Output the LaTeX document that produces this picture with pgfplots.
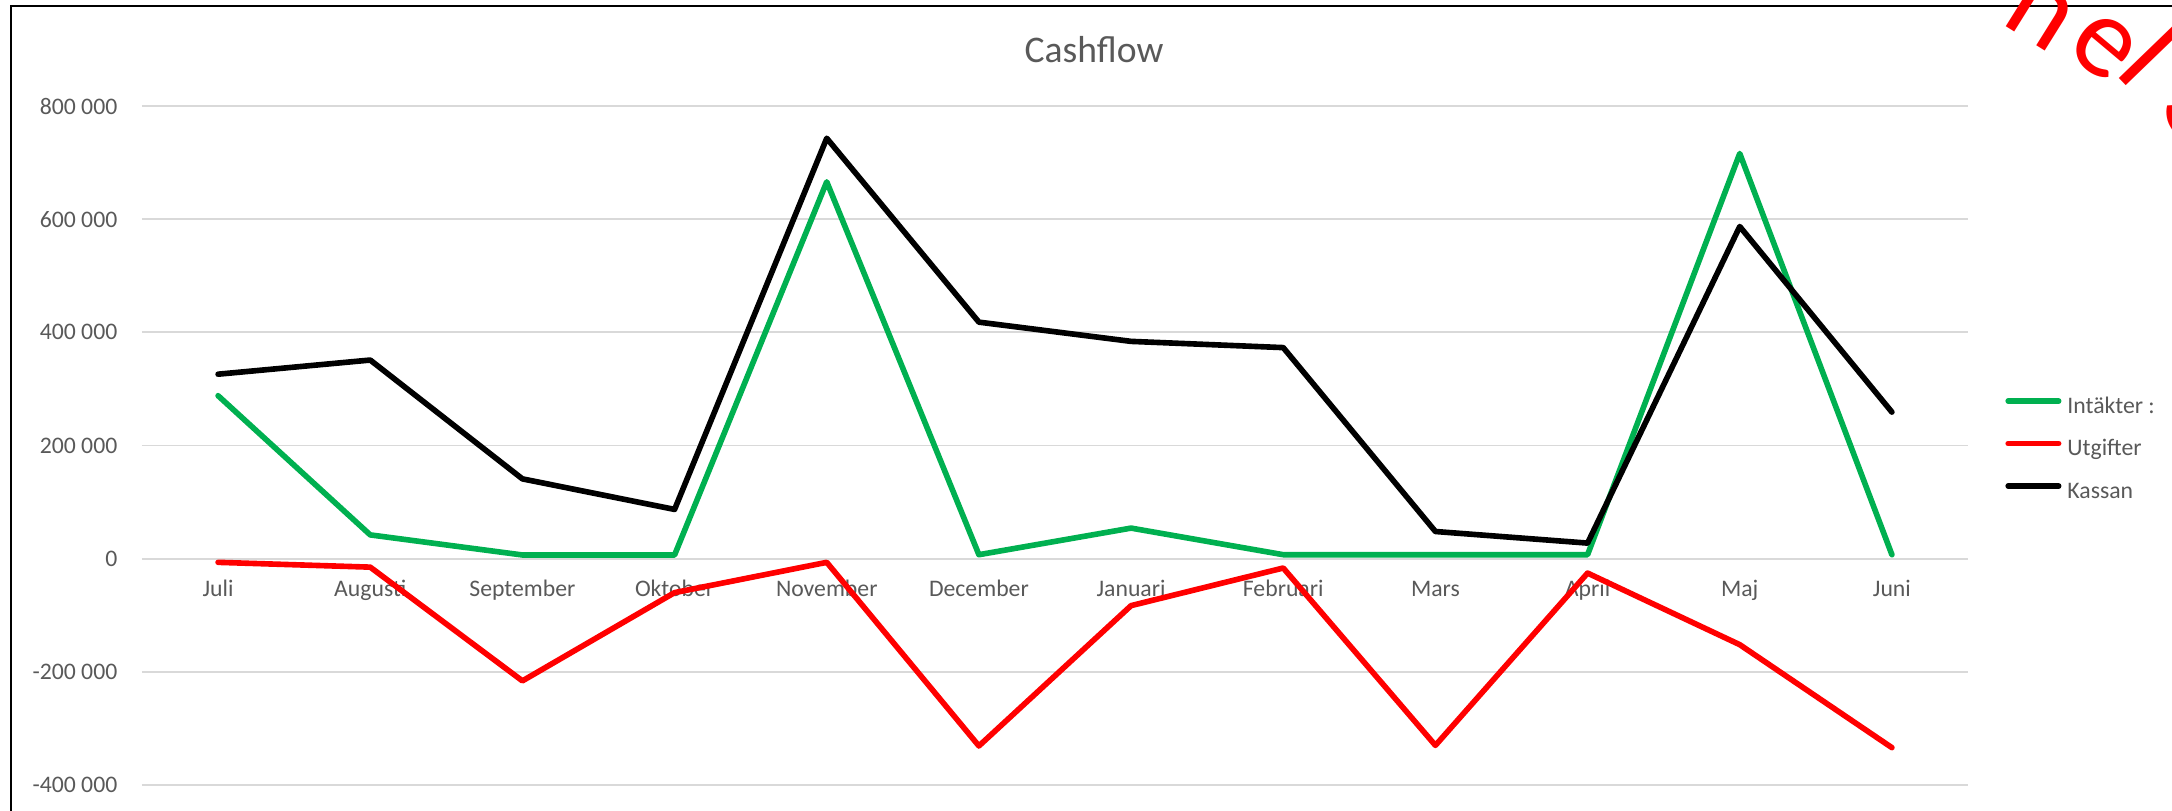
\documentclass[border=0pt]{standalone}
\usepackage{fontspec}
\setmainfont{Carlito}
\usepackage{pgfplots}
\usepackage{pgfplotstable}
\pgfplotsset{compat=1.18}

\definecolor{txtgray}{HTML}{595959}
\definecolor{gridgray}{HTML}{D9D9D9}
\definecolor{cfgreen}{HTML}{00B050}
\definecolor{cfred}{HTML}{FF0000}

% month index, Intäkter, Utgifter, Kassan
\pgfplotstableread{
x intakter utgifter kassan
0 288000 -6500 326000
1 42000 -15000 351000
2 6500 -216000 141000
3 6500 -60000 87000
4 666000 -6500 743000
5 7000 -331000 418000
6 54000 -83000 384000
7 7000 -16500 373000
8 7000 -330000 48000
9 7000 -25500 27500
10 716000 -152000 587000
11 7000 -334000 259000
}\cashflow

\begin{document}
\begin{tikzpicture}
  \begin{axis}[
    at={(0,0)}, anchor=south west,
    scale only axis,
    width=182.6mm, height=67.9mm,
    xmin=-0.5, xmax=11.5,
    ymin=-400000, ymax=800000,
    clip=false,
    scaled y ticks=false,
    axis line style={draw=none},
    major tick length=0pt,
    xtick={0,...,11},
    xticklabels={Juli,Augusti,September,Oktober,November,December,Januari,Februari,Mars,April,Maj,Juni},
    ytick={-400000,-200000,...,800000},
    yticklabels={-400 000,-200 000,0,200 000,400 000,600 000,800 000},
    ymajorgrids,
    grid style={gridgray, line width=0.55pt},
    tick label style={font=\fontsize{6.75}{8}\selectfont, text=txtgray, inner sep=0pt},
    yticklabel style={anchor=east, xshift=-2.4mm},
    xticklabel style={anchor=base, yshift=18.8mm},
    title={Cashflow},
    title style={at={(axis description cs:0.5214,1.0638)}, anchor=base, yshift=-6pt,
      font=\fontsize{10.7}{12}\selectfont, text=txtgray, inner sep=0pt},
    legend style={
      at={(axis description cs:1.0201,0.494)}, anchor=west,
      draw=none, fill=none, inner sep=0pt,
      font=\fontsize{6.75}{8}\selectfont, text=txtgray,
      row sep=2.05mm,
      nodes={inner sep=0pt, text height=1.7mm, text depth=0.5mm},
      /tikz/every odd column/.style={column sep=0.6mm},
    },
    legend cell align=left,
    legend image code/.code={\draw[#1, line width=1.55pt, line cap=round] (0.27mm,0.6mm) -- (5.33mm,0.6mm);},
    every axis plot/.append style={line width=1.6pt, line join=round, line cap=round},
  ]
    \addplot[cfgreen] table[x=x, y=intakter] {\cashflow};
    \addplot[cfred] table[x=x, y=utgifter] {\cashflow};
    \addplot[black] table[x=x, y=kassan] {\cashflow};
    \legend{Intäkter :, Utgifter, Kassan}
  \end{axis}

  % chart frame
  \draw[black, line width=0.57pt] (-13.1mm,-5mm) -- (-13.1mm,77.85mm) -- (210mm,77.85mm);

  % red text cut off at the top right corner
  \begin{scope}[every node/.style={text=cfred, font=\fontsize{33}{33}\selectfont, inner sep=0pt}]
    \node[rotate=-32] at (189.8mm,77.0mm) {n};
    \node[rotate=-40] at (196.1mm,73.8mm) {e};
    \node[rotate=-46] at (201.0mm,73.1mm) {l};
    \node[rotate=-55] at (206.2mm,67.6mm) {S};
  \end{scope}

  \pgfresetboundingbox
  \useasboundingbox (-14.2mm,-2.6mm) rectangle (203.0mm,78.5mm);
\end{tikzpicture}
\end{document}
